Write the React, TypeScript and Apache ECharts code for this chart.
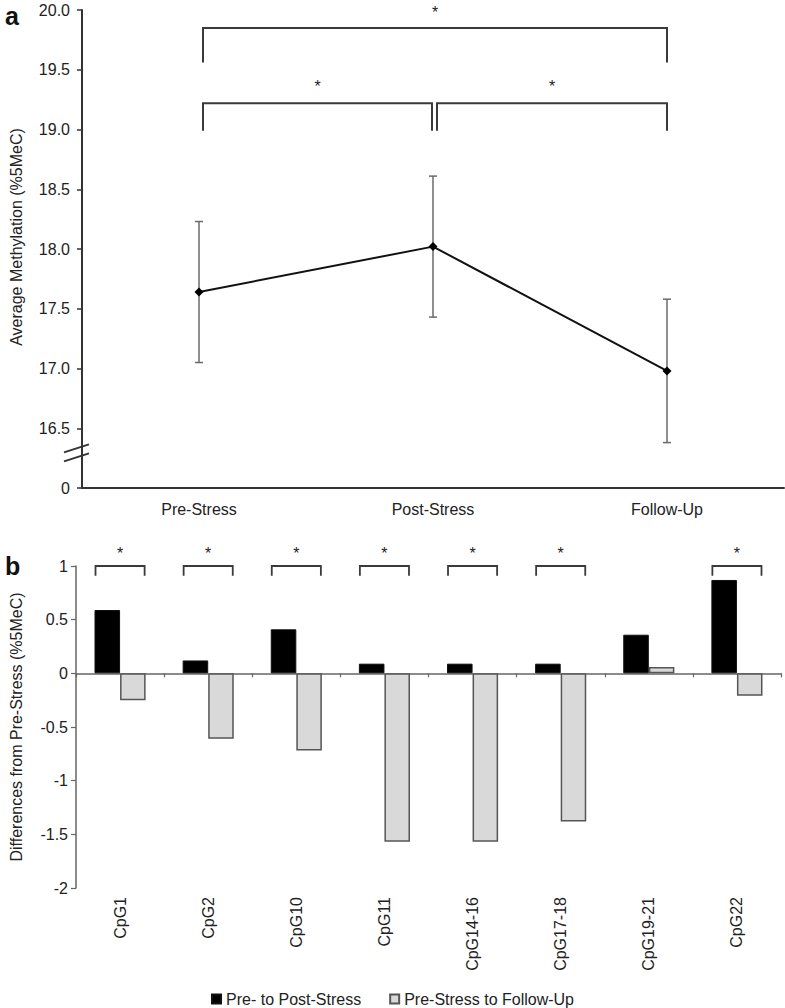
import React, { useEffect, useRef } from "react";
import * as echarts from "echarts";

// ---- Panel a data ----
const timepoints = ["Pre-Stress", "Post-Stress", "Follow-Up"];
const meanMethylation = [17.64, 18.02, 16.98];
const errorLow = [17.05, 17.43, 16.38];
const errorHigh = [18.23, 18.61, 17.58];
// bracket: from index, to index, bar level, leg end level, star level
const aBracketFrom = [0, 0, 1];
const aBracketTo = [2, 1, 2];
const aBracketTop = [19.85, 19.22, 19.22];
const aBracketLeg = [19.56, 18.99, 18.99];
const aStarLevel = [19.98, 19.36, 19.36];

// ---- Panel b data ----
const cpgSites = ["CpG1", "CpG2", "CpG10", "CpG11", "CpG14-16", "CpG17-18", "CpG19-21", "CpG22"];
const preToPost = [0.59, 0.12, 0.41, 0.09, 0.09, 0.09, 0.36, 0.87];
const preToFollow = [-0.25, -0.61, -0.72, -1.57, -1.57, -1.38, 0.06, -0.21];
const significant = [true, true, true, true, true, true, false, true];
const bBracketTop = 1.0;
const bBracketLeg = 0.91;
const bStarLevel = 1.12;

const TEXT = "#222";
const FONT = "Liberation Sans, Arial, sans-serif";

export default function App() {
  const ref = useRef<HTMLDivElement>(null);

  useEffect(() => {
    if (!ref.current) return;
    const chart = echarts.init(ref.current, null, { renderer: "svg" });

    const barFrac = 0.29;

    const option: any = {
      animation: false,
      backgroundColor: "#fff",
      textStyle: { fontFamily: FONT, color: TEXT },
      grid: [
        { left: 76, right: 1, top: 10, height: 478 },
        { left: 70, right: 4, top: 566, height: 322 },
      ],
      legend: {
        data: ["Pre- to Post-Stress", "Pre-Stress to Follow-Up"],
        top: 986,
        left: "center",
        icon: "rect",
        itemWidth: 9,
        itemHeight: 9,
        itemGap: 28,
        textStyle: { fontSize: 16, color: TEXT, fontFamily: FONT },
      },
      xAxis: [
        {
          gridIndex: 0,
          type: "category",
          data: timepoints,
          boundaryGap: true,
          axisLine: { onZero: false, lineStyle: { color: "#333", width: 2 } },
          axisTick: { alignWithLabel: true, length: 4, lineStyle: { color: "#333", width: 1.5 } },
          axisLabel: { fontSize: 16, color: TEXT, margin: 13, fontFamily: FONT },
        },
        {
          gridIndex: 1,
          type: "category",
          data: cpgSites,
          position: "bottom",
          axisLine: { show: false, onZero: false },
          axisTick: { show: false },
          axisLabel: { rotate: 90, fontSize: 16, color: TEXT, margin: 9, fontFamily: FONT },
        },
        {
          gridIndex: 1,
          type: "category",
          data: cpgSites,
          position: "bottom",
          axisLine: { show: true, onZero: true, lineStyle: { color: "#666", width: 1.5 } },
          axisTick: { show: true, length: 4, lineStyle: { color: "#666", width: 1.2 } },
          axisLabel: { show: false },
        },
      ],
      yAxis: [
        {
          gridIndex: 0,
          type: "value",
          min: 16,
          max: 20,
          interval: 0.5,
          splitLine: { show: false },
          axisLine: { show: true, lineStyle: { color: "#333", width: 2 } },
          axisTick: { show: true, length: 5, lineStyle: { color: "#333", width: 1.5 } },
          axisLabel: {
            fontSize: 16,
            color: TEXT,
            margin: 12,
            fontFamily: FONT,
            formatter: (v: number) => (v === 16 ? "0" : v.toFixed(1)),
          },
          name: "Average Methylation (%5MeC)",
          nameLocation: "middle",
          nameGap: 58,
          nameTextStyle: { fontSize: 16, color: TEXT, fontFamily: FONT, padding: [0, 0, 0, 24] },
        },
        {
          gridIndex: 1,
          type: "value",
          min: -2,
          max: 1,
          interval: 0.5,
          splitLine: { show: false },
          axisLine: { show: true, lineStyle: { color: "#666", width: 1.5 } },
          axisTick: { show: true, length: 5, lineStyle: { color: "#666", width: 1.2 } },
          axisLabel: { fontSize: 16, color: TEXT, margin: 8, fontFamily: FONT },
          name: "Differences from Pre-Stress (%5MeC)",
          nameLocation: "middle",
          nameGap: 52,
          nameTextStyle: { fontSize: 16, color: TEXT, fontFamily: FONT },
        },
      ],
      series: [
        {
          type: "custom",
          name: "errorbars",
          xAxisIndex: 0,
          yAxisIndex: 0,
          z: 2,
          data: timepoints.map((_, i) => [i, errorLow[i], errorHigh[i]]),
          encode: { x: 0, y: [1, 2] },
          renderItem: (params: any, api: any) => {
            const x = api.value(0);
            const lo = api.coord([x, api.value(1)]);
            const hi = api.coord([x, api.value(2)]);
            const cap = 4;
            const st = { stroke: "#6a6a6a", lineWidth: 1.5 };
            return {
              type: "group",
              children: [
                { type: "line", shape: { x1: lo[0], y1: lo[1], x2: hi[0], y2: hi[1] }, style: st },
                { type: "line", shape: { x1: lo[0] - cap, y1: lo[1], x2: lo[0] + cap, y2: lo[1] }, style: st },
                { type: "line", shape: { x1: hi[0] - cap, y1: hi[1], x2: hi[0] + cap, y2: hi[1] }, style: st },
              ],
            };
          },
        },
        {
          type: "line",
          name: "mean",
          xAxisIndex: 0,
          yAxisIndex: 0,
          z: 5,
          data: meanMethylation,
          symbol: "diamond",
          symbolSize: 9,
          itemStyle: { color: "#000" },
          lineStyle: { color: "#111", width: 2 },
        },
        {
          type: "custom",
          name: "bracketsA",
          xAxisIndex: 0,
          yAxisIndex: 0,
          z: 3,
          data: aBracketFrom.map((f, i) => [f, aBracketTo[i], aBracketTop[i], aBracketLeg[i], aStarLevel[i]]),
          encode: { x: [0, 1], y: [2, 3, 4] },
          renderItem: (params: any, api: any) => {
            const p0 = api.coord([api.value(0), api.value(2)]);
            const p1 = api.coord([api.value(1), api.value(2)]);
            const legY = api.coord([api.value(0), api.value(3)])[1];
            const starY = api.coord([api.value(0), api.value(4)])[1];
            const x0 = p0[0] + 4;
            const x1 = p1[0] + (api.value(1) === 1 ? -1 : 0);
            const st = { stroke: "#3a3a3a", lineWidth: 2, fill: "none" };
            return {
              type: "group",
              children: [
                {
                  type: "polyline",
                  shape: { points: [[x0, legY], [x0, p0[1]], [x1, p0[1]], [x1, legY]] },
                  style: st,
                },
                {
                  type: "text",
                  x: (x0 + x1) / 2,
                  y: starY,
                  style: { text: "*", fontSize: 16, fontFamily: FONT, fill: TEXT, textAlign: "center", textVerticalAlign: "middle" },
                },
              ],
            };
          },
        },
        {
          type: "bar",
          name: "Pre- to Post-Stress",
          xAxisIndex: 1,
          yAxisIndex: 1,
          data: preToPost,
          barWidth: "29%",
          barGap: "0%",
          itemStyle: { color: "#000", borderColor: "#111", borderWidth: 1 },
        },
        {
          type: "bar",
          name: "Pre-Stress to Follow-Up",
          xAxisIndex: 1,
          yAxisIndex: 1,
          data: preToFollow,
          barWidth: "29%",
          barGap: "0%",
          itemStyle: { color: "#d9d9d9", borderColor: "#555", borderWidth: 1.5 },
        },
        {
          type: "custom",
          name: "bracketsB",
          xAxisIndex: 1,
          yAxisIndex: 1,
          z: 3,
          data: cpgSites.map((_, i) => i).filter((i) => significant[i]).map((i) => [i, bBracketTop, bBracketLeg, bStarLevel]),
          encode: { x: 0, y: [1, 2, 3] },
          renderItem: (params: any, api: any) => {
            const c = api.coord([api.value(0), api.value(1)]);
            const legY = api.coord([api.value(0), api.value(2)])[1];
            const starY = api.coord([api.value(0), api.value(3)])[1];
            const bw = api.size([1, 0])[0];
            const half = bw * barFrac;
            const x0 = c[0] - half + 1;
            const x1 = c[0] + half - 1;
            const st = { stroke: "#3a3a3a", lineWidth: 1.8, fill: "none" };
            return {
              type: "group",
              children: [
                { type: "polyline", shape: { points: [[x0, legY], [x0, c[1]], [x1, c[1]], [x1, legY]] }, style: st },
                {
                  type: "text",
                  x: c[0],
                  y: starY,
                  style: { text: "*", fontSize: 16, fontFamily: FONT, fill: TEXT, textAlign: "center", textVerticalAlign: "middle" },
                },
              ],
            };
          },
        },
      ],
    };

    chart.setOption(option);

    // axis break decoration on panel a's y axis
    const gapTop = chart.convertToPixel({ yAxisIndex: 0 }, 16.4) as number;
    const gapBot = chart.convertToPixel({ yAxisIndex: 0 }, 16.18) as number;
    const mid = (gapTop + gapBot) / 2;
    const ax = 76;
    chart.setOption({
      graphic: [
        { type: "rect", shape: { x: ax - 4, y: gapTop, width: 8, height: gapBot - gapTop }, style: { fill: "#fff" }, z: 100 },
        { type: "line", shape: { x1: ax - 12, y1: mid - 1, x2: ax + 13, y2: mid - 9 }, style: { stroke: "#333", lineWidth: 2 }, z: 101 },
        { type: "line", shape: { x1: ax - 12, y1: mid + 8, x2: ax + 13, y2: mid }, style: { stroke: "#333", lineWidth: 2 }, z: 101 },
        { type: "text", left: 5, top: 3, style: { text: "a", fontSize: 25, fontWeight: "bold", fontFamily: FONT, fill: "#111" }, z: 101 },
        { type: "text", left: 5, top: 553, style: { text: "b", fontSize: 25, fontWeight: "bold", fontFamily: FONT, fill: "#111" }, z: 101 },
      ],
    });

    return () => chart.dispose();
  }, []);

  return <div ref={ref} style={{ position: "absolute", left: 0, top: 0, width: 785, height: 1008 }} />;
}
